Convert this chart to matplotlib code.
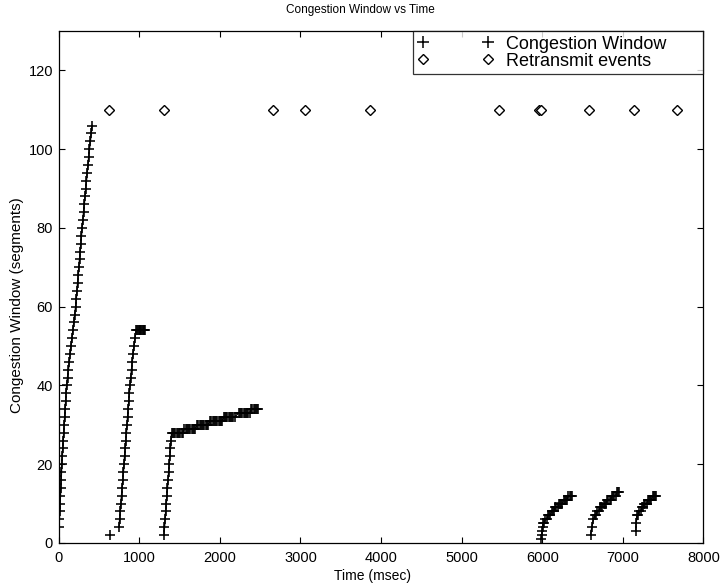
import matplotlib
matplotlib.use("Agg")
import matplotlib.pyplot as plt
from matplotlib.lines import Line2D

plt.rcParams['font.family'] = ['Liberation Sans', 'DejaVu Sans']

# ---- data (time in msec, congestion window in segments) ----
seg1_t = [5, 10, 14, 19, 23, 28, 32, 36, 40, 46, 52, 58, 64, 70, 76, 82, 88, 94,
          100, 111, 122, 133, 144, 155, 166, 178, 189, 200, 212, 220, 228, 236,
          244, 252, 260, 268, 276, 284, 292, 301, 310, 319, 328, 337, 346, 355,
          365, 374, 383, 394, 405, 414]
seg1_w = [4, 6, 8, 10, 12, 14, 16, 18, 20, 22, 24, 26, 28, 30, 32, 34, 36, 38,
          40, 42, 44, 46, 48, 50, 52, 54, 56, 58, 60, 62, 64, 66, 68, 70, 72, 74,
          76, 78, 80, 82, 84, 86, 88, 90, 92, 94, 96, 98, 100, 102, 104, 106]

lone_t = [637]
lone_w = [2]

seg2_t = [750, 758, 766, 773, 781, 789, 797, 804, 812, 819, 827, 834, 842, 849,
          856, 864, 871, 878, 886, 895, 905, 914, 924, 936, 948, 962,
          975, 985, 995, 1005, 1015, 1025, 1035, 1045, 1055, 1065, 1075]
seg2_w = [4, 6, 8, 10, 12, 14, 16, 18, 20, 22, 24, 26, 28, 30, 32, 34, 36, 38,
          40, 42, 44, 46, 48, 50, 52, 54,
          54, 54, 54, 54, 54, 54, 54, 54, 54, 54, 54]

seg3_t = [1307, 1314, 1322, 1329, 1336, 1344, 1351, 1358, 1366, 1373, 1380, 1388,
          1395, 1402,
          1420, 1435, 1450, 1465, 1480, 1495, 1510, 1525, 1540,
          1560, 1575, 1590, 1605, 1620, 1635, 1650, 1665, 1680, 1695,
          1720, 1735, 1750, 1765, 1780, 1795, 1810, 1825, 1840, 1855,
          1880, 1895, 1910, 1925, 1940, 1955, 1970, 1985, 2000, 2015, 2030,
          2050, 2065, 2080, 2095, 2110, 2125, 2140, 2155, 2170, 2185,
          2235, 2250, 2265, 2280, 2295, 2310, 2325, 2340, 2355, 2370,
          2390, 2405, 2420, 2435, 2450, 2465, 2480]
seg3_w = [2, 4, 6, 8, 10, 12, 14, 16, 18, 20, 22, 24, 26, 28,
          28, 28, 28, 28, 28, 28, 28, 28, 28,
          29, 29, 29, 29, 29, 29, 29, 29, 29, 29,
          30, 30, 30, 30, 30, 30, 30, 30, 30, 30,
          31, 31, 31, 31, 31, 31, 31, 31, 31, 31, 31,
          32, 32, 32, 32, 32, 32, 32, 32, 32, 32,
          33, 33, 33, 33, 33, 33, 33, 33, 33, 33,
          34, 34, 34, 34, 34, 34, 34]

seg4_t = [5990, 5995, 6000, 6005, 6015, 6025, 6040, 6055, 6070, 6085, 6100,
          6115, 6130, 6145, 6160, 6175, 6190, 6205, 6220, 6235, 6250,
          6265, 6280, 6295, 6310, 6325, 6340, 6355, 6370]
seg4_w = [1, 2, 3, 4, 5, 5, 6, 6, 7, 7, 7, 8, 8, 8, 9, 9, 9, 10, 10, 10, 10,
          11, 11, 11, 11, 12, 12, 12, 12]

seg5_t = [6600, 6615, 6635, 6655, 6670, 6685, 6700, 6715, 6730, 6745, 6760,
          6775, 6790, 6805, 6820, 6835, 6850, 6865, 6880, 6895, 6910, 6925,
          6940, 6955]
seg5_w = [2, 4, 6, 7, 7, 8, 8, 9, 9, 9, 10, 10, 10, 11, 11, 11, 11, 12, 12, 12,
          12, 13, 13, 13]

seg6_t = [7160, 7165, 7175, 7190, 7205, 7220, 7235, 7250, 7265, 7280, 7295,
          7310, 7325, 7340, 7355, 7370, 7385, 7400, 7415]
seg6_w = [3, 5, 7, 7, 8, 8, 9, 9, 10, 10, 10, 11, 11, 11, 11, 12, 12, 12, 12]

retx_t = [630, 1305, 2660, 3055, 3860, 5460, 5965, 5980, 6580, 7140, 7670]
retx_w = [110, 110, 110, 110, 110, 110, 110, 110, 110, 110, 110]

x_ticks = [0, 1000, 2000, 3000, 4000, 5000, 6000, 7000, 8000]
y_ticks = [0, 20, 40, 60, 80, 100, 120]

# ---- figure ----
fig = plt.figure(figsize=(7.23, 5.85), dpi=100)
ax = fig.add_axes([0.081, 0.072, 0.892, 0.875])

segments = [(seg1_t, seg1_w), (lone_t, lone_w), (seg2_t, seg2_w),
            (seg3_t, seg3_w), (seg4_t, seg4_w), (seg5_t, seg5_w),
            (seg6_t, seg6_w)]
for t, w in segments:
    ax.plot(t, w, color='black', lw=1.0, marker='+', ms=7.3, mew=1.15)

ax.plot(retx_t, retx_w, linestyle='none', marker='D', ms=5.3, mfc='white',
        mec='black', mew=1.0)

ax.set_xlim(0, 8000)
ax.set_ylim(0, 130)
ax.set_xticks(x_ticks)
ax.set_yticks(y_ticks)
ax.tick_params(direction='in', top=True, right=True, length=4, width=0.8,
               labelsize=10.5)
ax.tick_params(axis='x', pad=6)
ax.tick_params(axis='y', pad=4)
for s in ax.spines.values():
    s.set_linewidth(0.9)

fig.text(0.498, 0.983, 'Congestion Window vs Time', fontsize=8.5,
         ha='center', va='center')
ax.set_xlabel('Time (msec)', fontsize=10, labelpad=2)
ax.xaxis.set_label_coords(0.487, -0.052)
ax.set_ylabel('Congestion Window (segments)', fontsize=11, labelpad=4)
ax.yaxis.set_label_coords(-0.053, 0.465)

# legend: markers only, two per entry, box stretched like the original
h1 = Line2D([], [], color='black', linestyle='none', marker='+', ms=8, mew=1.1)
h2 = Line2D([], [], linestyle='none', marker='D', ms=5.3, mfc='white',
            mec='black', mew=1.0)
leg = ax.legend([h1, h2], ['Congestion Window', 'Retransmit events'],
                loc='upper right', bbox_to_anchor=(0.5497, 0.0, 0.4503, 1.0),
                mode='expand', numpoints=2, fontsize=13, frameon=True,
                fancybox=False, borderaxespad=0.0, handlelength=4.2,
                handletextpad=0.7, borderpad=0.25, labelspacing=0.0)
leg.get_frame().set_edgecolor('black')
leg.get_frame().set_linewidth(0.9)

fig.savefig('out.png', dpi=100)
